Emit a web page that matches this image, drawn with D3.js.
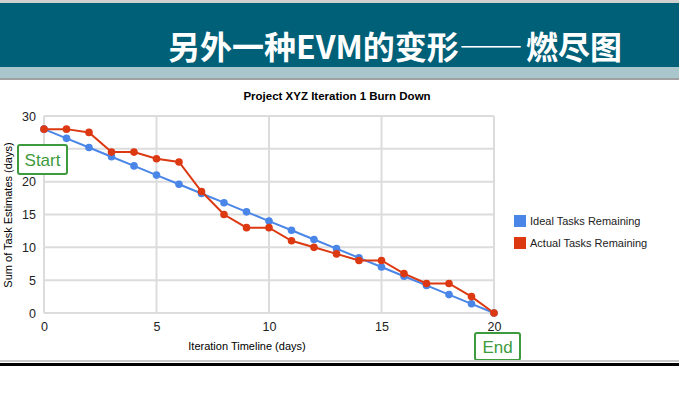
<!DOCTYPE html>
<html>
<head>
<meta charset="utf-8">
<script src="https://cdn.jsdelivr.net/npm/d3@7"></script>
<style>
  body { margin: 0; background: #fff; }
  svg { display: block; }
</style>
</head>
<body>
<div id="chart"></div>
<script>

// data
const days = [0, 1, 2, 3, 4, 5, 6, 7, 8, 9, 10, 11, 12, 13, 14, 15, 16, 17, 18, 19, 20];
const idealRemaining = [28, 26.6, 25.2, 23.8, 22.4, 21, 19.6, 18.2, 16.8, 15.4, 14, 12.6, 11.2, 9.8, 8.4, 7, 5.6, 4.2, 2.8, 1.4, 0];
const actualRemaining = [28, 28, 27.5, 24.5, 24.5, 23.5, 23, 18.5, 15, 13, 13, 11, 10, 9, 8, 8, 6, 4.5, 4.5, 2.5, 0];
const xTicks = [0, 5, 10, 15, 20];
const yTicks = [0, 5, 10, 15, 20, 25, 30];
const seriesNames = ["Ideal Tasks Remaining", "Actual Tasks Remaining"];
const seriesColors = ["#4a86e8", "#dc3912"];

let W = 679, H = 397;

let svg = d3.select("#chart").append("svg")
    .attr("width", W)
    .attr("height", H);

// slide header
svg.append("rect").attr("x", 0).attr("y", 0).attr("width", W).attr("height", 3).attr("fill", "#d0d0d0");
svg.append("rect").attr("x", 0).attr("y", 3).attr("width", W).attr("height", 64).attr("fill", "#006078");
svg.append("rect").attr("x", 0).attr("y", 67).attr("width", W).attr("height", 11).attr("fill", "#a8c6cc");
svg.append("rect").attr("x", 0).attr("y", 78).attr("width", W).attr("height", 2).attr("fill", "#a0a0a0");

let heading = svg.append("text")
    .attr("x", 395)
    .attr("y", 59)
    .attr("text-anchor", "middle")
    .attr("fill", "#fff")
    .style("font-family", "'Noto Sans CJK SC', sans-serif")
    .style("font-weight", "bold")
    .style("font-size", "32px");
heading.append("tspan").text("另外一种EVM的变形");
// full-width dashes, like the slide
heading.append("tspan")
    .style("font-feature-settings", "'fwid' 1")
    .style("letter-spacing", "3px")
    .text("——");
heading.append("tspan").text("燃尽图");

// scales
let x = d3.scaleLinear().domain([0, 20]).range([44, 494]);
let y = d3.scaleLinear().domain([0, 30]).range([313, 116]);

// grid
let grid = svg.append("g");
grid.selectAll(".vgrid").data(xTicks).enter().append("line")
    .attr("x1", d => x(d)).attr("x2", d => x(d))
    .attr("y1", y(30)).attr("y2", y(0))
    .attr("stroke", "#dcdcdc").attr("stroke-width", 2);
grid.selectAll(".hgrid").data(yTicks).enter().append("line")
    .attr("x1", x(0)).attr("x2", x(20))
    .attr("y1", d => y(d)).attr("y2", d => y(d))
    .attr("stroke", "#dcdcdc").attr("stroke-width", 2);

// axes (labels only)
let yAxis = d3.axisLeft(y).tickValues(yTicks).tickSize(0).tickPadding(8);
let yAxisGroup = svg.append("g").attr("transform", "translate(" + x(0) + ",0)").call(yAxis);
let xAxis = d3.axisBottom(x).tickValues(xTicks).tickSize(0).tickPadding(9);
let xAxisGroup = svg.append("g").attr("transform", "translate(0," + y(0) + ")").call(xAxis);
[yAxisGroup, xAxisGroup].forEach(g => {
    g.select(".domain").remove();
    g.selectAll("text")
        .attr("fill", "#222")
        .style("font-family", "'Liberation Sans', Arial, sans-serif")
        .style("font-size", "12.5px");
});

// chart title and axis titles
svg.append("text")
    .attr("x", 337).attr("y", 100)
    .attr("text-anchor", "middle")
    .style("font-family", "'Liberation Sans', Arial, sans-serif")
    .style("font-weight", "bold")
    .style("font-size", "11.5px")
    .text("Project XYZ Iteration 1 Burn Down");

svg.append("text")
    .attr("x", 247).attr("y", 350)
    .attr("text-anchor", "middle")
    .style("font-family", "'Liberation Sans', Arial, sans-serif")
    .style("font-size", "11px")
    .text("Iteration Timeline (days)");

svg.append("text")
    .attr("transform", "translate(12,215) rotate(-90)")
    .attr("text-anchor", "middle")
    .style("font-family", "'Liberation Sans', Arial, sans-serif")
    .style("font-size", "11px")
    .text("Sum of Task Estimates (days)");

// series
let series = [idealRemaining, actualRemaining];
let line = d3.line().x((d, i) => x(days[i])).y(d => y(d));

series.forEach((values, s) => {
    svg.append("path")
        .datum(values)
        .attr("d", line)
        .attr("fill", "none")
        .attr("stroke", seriesColors[s])
        .attr("stroke-width", 2);
    svg.selectAll(".dot" + s).data(values).enter().append("circle")
        .attr("cx", (d, i) => x(days[i]))
        .attr("cy", d => y(d))
        .attr("r", 3.8)
        .attr("fill", seriesColors[s]);
});

// legend
let legend = svg.append("g");
seriesNames.forEach((name, i) => {
    legend.append("rect")
        .attr("x", 514).attr("y", 215 + i * 22)
        .attr("width", 12).attr("height", 12)
        .attr("fill", seriesColors[i]);
    legend.append("text")
        .attr("x", 530).attr("y", 225 + i * 22)
        .style("font-family", "'Liberation Sans', Arial, sans-serif")
        .style("font-size", "11px")
        .attr("fill", "#222")
        .text(name);
});

// Start / End callouts (they sit over the "25" tick label, as in the slide)
function callout(bx, by, bw, bh, label) {
    svg.append("rect")
        .attr("x", bx).attr("y", by).attr("width", bw).attr("height", bh)
        .attr("rx", 2)
        .attr("fill", "#fff")
        .attr("stroke", "#3d9a3d").attr("stroke-width", 2);
    svg.append("text")
        .attr("x", bx + bw / 2).attr("y", by + bh / 2 + 6)
        .attr("text-anchor", "middle")
        .attr("fill", "#3d9a3d")
        .style("font-family", "'Liberation Sans', Arial, sans-serif")
        .style("font-size", "17px")
        .text(label);
}
callout(18, 145, 49, 29, "Start");
callout(475, 333, 45, 27, "End");

// slide bottom rules
svg.append("rect").attr("x", 0).attr("y", 360).attr("width", W).attr("height", 2).attr("fill", "#c8c8c8");
svg.append("rect").attr("x", 0).attr("y", 363).attr("width", W).attr("height", 3).attr("fill", "#000");

</script>
</body>
</html>
